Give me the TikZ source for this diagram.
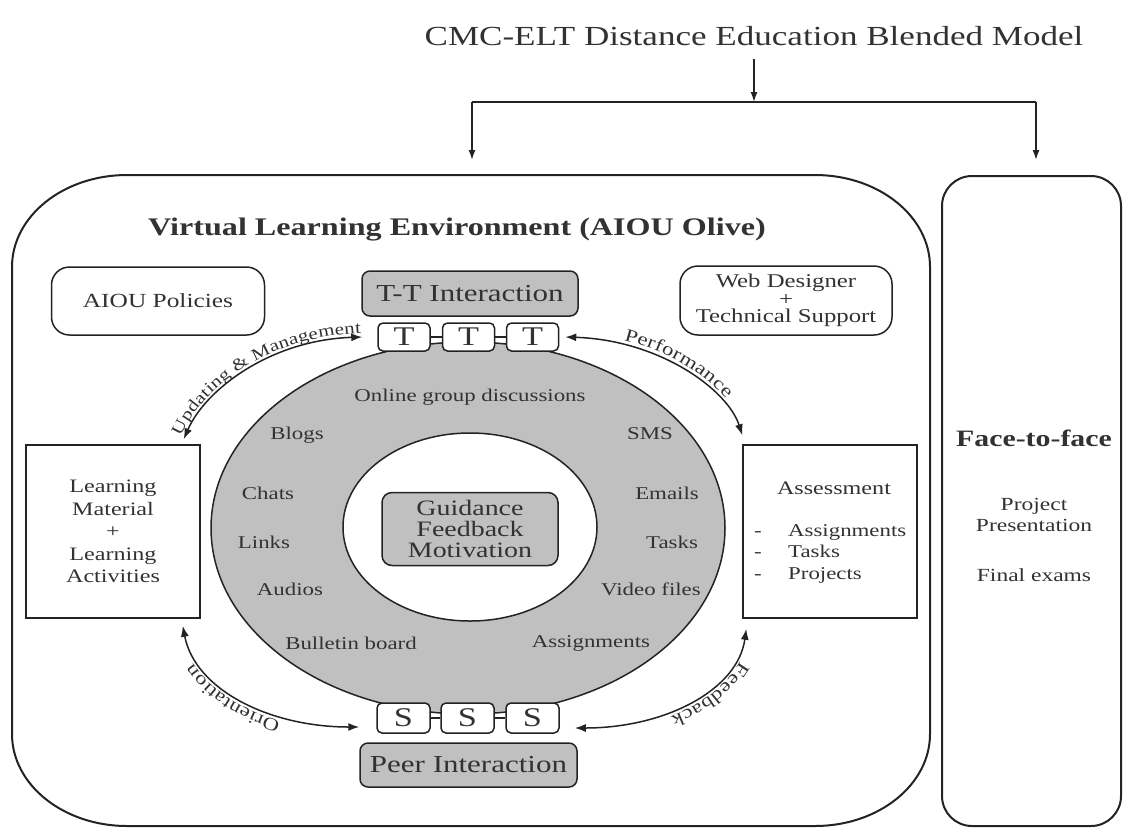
\documentclass[tikz,border=0pt]{standalone}
\usepackage{fontspec}
\setmainfont{Liberation Serif}[FakeStretch=1.27]
\usetikzlibrary{arrows.meta,shapes.geometric,decorations.text}
\definecolor{txt}{RGB}{50,50,50}
\definecolor{ln}{RGB}{35,35,35}
\definecolor{gfill}{RGB}{192,192,192}
\newcommand{\fs}[2]{\fontsize{#1pt}{#2pt}\selectfont}
\begin{document}
\begin{tikzpicture}[x=1pt,y=-1pt,
  every node/.style={text=txt, inner sep=0pt, align=center},
  rbox/.style={draw=ln, line width=1.5pt, rounded corners=#1, fill=white},
  rbox/.default=6pt,
  ringlbl/.style={font=\fs{18}{20}},
  conn/.style={draw=ln, line width=1.5pt, -{Latex[length=10pt,width=7pt]}},
  biarrow/.style={draw=ln, line width=1.5pt, {Latex[length=11pt,width=8pt]}-{Latex[length=11pt,width=8pt]}},
  link/.style={draw=ln, line width=1.3pt}
]
\useasboundingbox (0,0) rectangle (1123,828);

% title and top connectors
\node[font=\fs{27.6}{30}] (title) at (754,36) {CMC-ELT Distance Education Blended Model};
\coordinate (j) at (754,102);
\coordinate (jl) at (472,102);
\coordinate (jr) at (1036,102);
\coordinate (vlein) at (472,160);
\coordinate (f2fin) at (1036,160);
\draw[conn, shorten <=13pt] (title.south) -- (j);
\draw[link, line width=1.5pt] (jl) -- (jr);
\draw[conn] (jl) -- (vlein);
\draw[conn] (jr) -- (f2fin);

% containers
\draw[ln, line width=2pt] (127,175) -- (815,175)
  arc[start angle=-90,end angle=0,x radius=115,y radius=92] -- (930,734)
  arc[start angle=0,end angle=90,x radius=115,y radius=92] -- (127,826)
  arc[start angle=90,end angle=180,x radius=115,y radius=92] -- (12,267)
  arc[start angle=180,end angle=270,x radius=115,y radius=92] -- cycle;
\draw[ln, line width=2pt, rounded corners=30pt] (942,176) rectangle (1121,826);

\node[font=\bfseries\fs{25.3}{28}] (vlet) at (457,230) {Virtual Learning Environment (AIOU Olive)};
\node[font=\bfseries\fs{23.5}{26}] (f2ft) at (1034,438) {Face-to-face};
\node[font=\fs{18.5}{21}] (proj) at (1034,514.5) {Project\\Presentation};
\node[font=\fs{18.5}{21}] (final) at (1034,575) {Final exams};

% ring
\node[ellipse, draw=ln, line width=1.5pt, fill=gfill, minimum width=514pt, minimum height=372pt] (ring) at (468,528) {};
\node[ellipse, draw=ln, line width=1.5pt, fill=white, minimum width=254pt, minimum height=188pt] (hole) at (470,527) {};
\node[rbox=10pt, fill=gfill, minimum width=176pt, minimum height=73pt, font=\fs{22}{21}] (guide) at (470,529) {Guidance\\Feedback\\Motivation};

\node[ringlbl] (ogd) at (470,397) {Online group discussions};
\node[ringlbl] (blogs) at (297,435) {Blogs};
\node[ringlbl] (chats) at (268,493) {Chats};
\node[ringlbl] (links) at (264,542) {Links};
\node[ringlbl] (audios) at (290,589) {Audios};
\node[ringlbl] (bb) at (351,643) {Bulletin board};
\node[ringlbl] (sms) at (650,434) {SMS};
\node[ringlbl] (emails) at (667,493) {Emails};
\node[ringlbl] (tasks) at (672,542) {Tasks};
\node[ringlbl] (video) at (651,589) {Video files};
\node[ringlbl] (assign) at (591,643) {Assignments};

% T-T interaction
\node[rbox=8pt, fill=gfill, minimum width=216pt, minimum height=45pt, font=\fs{24.4}{26}] (tt) at (470,293.5) {T-T Interaction};
\node[rbox=5pt, minimum width=52pt, minimum height=28pt, font=\fs{27}{27}] (t1) at (404,337) {T};
\node[rbox=5pt, minimum width=52pt, minimum height=28pt, font=\fs{27}{27}] (t2) at (468.5,337) {T};
\node[rbox=5pt, minimum width=52pt, minimum height=28pt, font=\fs{27}{27}] (t3) at (532.5,337) {T};
\draw[link] (t1.east) -- (t2.west);
\draw[link] (t2.east) -- (t3.west);

% Peer interaction
\node[rbox=5pt, minimum width=53pt, minimum height=30pt, font=\fs{27}{27}] (s1) at (403.5,718) {S};
\node[rbox=5pt, minimum width=53pt, minimum height=30pt, font=\fs{27}{27}] (s2) at (467.5,718) {S};
\node[rbox=5pt, minimum width=53pt, minimum height=30pt, font=\fs{27}{27}] (s3) at (532.5,718) {S};
\draw[link] (s1.east) -- (s2.west);
\draw[link] (s2.east) -- (s3.west);
\node[rbox=8pt, fill=gfill, minimum width=217pt, minimum height=44pt, font=\fs{24.4}{26}] (peer) at (468.5,765) {Peer Interaction};

% side boxes
\node[rbox=18pt, minimum width=213pt, minimum height=68pt, font=\fs{20}{22}] (pol) at (158,301) {AIOU Policies};
\node[rbox=18pt, minimum width=212pt, minimum height=69pt, font=\fs{19.5}{17.5}] (web) at (786,300.5) {Web Designer\\+\\Technical Support};
\node[draw=ln, line width=1.5pt, minimum width=174pt, minimum height=173pt, font=\fs{19}{22.5}] (lm) at (113,531.5) {Learning\\Material\\+\\Learning\\Activities};
\node[draw=ln, line width=1.5pt, minimum width=174pt, minimum height=173pt] (assess) at (830,531.5) {};
\node[font=\fs{19}{22}] (assesst) at (834,488) {Assessment};
\node[font=\fs{18}{21.5}, align=left, anchor=west] (alist) at (754,553.5) {\makebox[34pt][l]{-}Assignments\\\makebox[34pt][l]{-}Tasks\\\makebox[34pt][l]{-}Projects};

% curved arrows
\draw[biarrow] ([xshift=-17pt,yshift=5pt]lm.north east) .. controls (205,390) and (270,340) .. ([xshift=-15pt]t1.west);
\path[decorate, decoration={text along path, raise=4pt, text align=center,
  text={|\fs{16.5}{16.5}\color{txt}|Updating {\&} Management}}]
  ([xshift=-17pt,yshift=5pt]lm.north east) .. controls (205,390) and (270,340) .. ([xshift=-15pt]t1.west);

\draw[biarrow] ([xshift=6pt]t3.east) .. controls (660,340) and (728,390) .. ([yshift=9pt]assess.north west);
\path[decorate, decoration={text along path, raise=5pt, text align={align=left, left indent=58pt},
  text={|\fs{18}{18}\color{txt}|Performance}}]
  ([xshift=6pt]t3.east) .. controls (660,340) and (728,390) .. ([yshift=9pt]assess.north west);

\draw[biarrow] ([xshift=-17pt,yshift=-9pt]s1.west) .. controls (270,727) and (195,690) .. ([xshift=-18pt,yshift=-7pt]lm.south east);
\path[decorate, decoration={text along path, raise=5pt, text align={align=right, right indent=38pt},
  text={|\fs{18}{18}\color{txt}|Orientation}}]
  ([xshift=-17pt,yshift=-9pt]s1.west) .. controls (270,727) and (195,690) .. ([xshift=-18pt,yshift=-7pt]lm.south east);

\draw[biarrow] ([xshift=4pt,yshift=-10pt]assess.south west) .. controls (738,690) and (665,728) .. ([xshift=15pt,yshift=-10pt]s3.east);
\path[decorate, decoration={text along path, raise=5pt, text align={align=left, left indent=32pt},
  text={|\fs{18}{18}\color{txt}|Feedback}}]
  ([xshift=4pt,yshift=-10pt]assess.south west) .. controls (738,690) and (665,728) .. ([xshift=15pt,yshift=-10pt]s3.east);
\end{tikzpicture}
\end{document}
